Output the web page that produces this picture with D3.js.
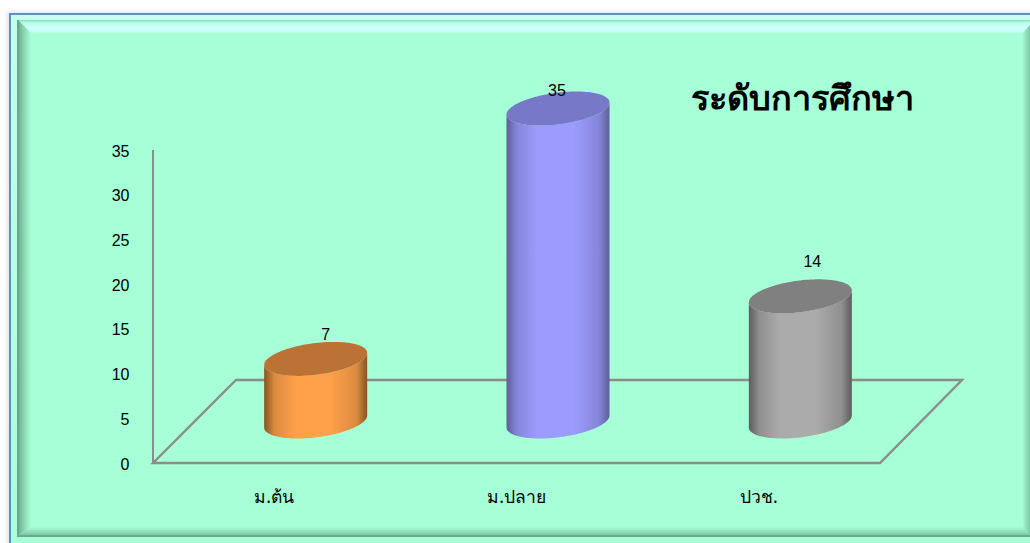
<!DOCTYPE html>
<html><head><meta charset="utf-8">
<script src="https://cdn.jsdelivr.net/npm/d3@7"></script>
<style>html,body{margin:0;padding:0;background:#fff;overflow:hidden}svg{display:block}</style>
</head><body><div id="c"></div>
<script>
const categories = ["ม.ต้น", "ม.ปลาย", "ปวช."];
const values = [7, 35, 14];
const yTicks = [0, 5, 10, 15, 20, 25, 30, 35];
const titleText = "ระดับการศึกษา";
const sideEdge = ["#86541f", "#5e5e98", "#5c5c5c"];
const sideMid = ["#d98a40", "#8585d8", "#8f8f8f"];
const sideLight = ["#ffa04a", "#9c9cff", "#ababab"];
const topColors = ["#bd7235", "#7878c8", "#808080"];
const labelDx = [10, -1, 12];
const labelLift = [26, 20, 37];

const W = 1030, H = 543;
const svg = d3.select("#c").append("svg").attr("width", W).attr("height", H);
const defs = svg.append("defs");

const shadow = defs.append("filter").attr("id","sh").attr("x","-3%").attr("y","-3%").attr("width","106%").attr("height","106%");
shadow.append("feGaussianBlur").attr("stdDeviation",2);

const bg = "#a6ffd6";
const grad=(id,horizontal,stops)=>{
  const g=defs.append("linearGradient").attr("id",id).attr("x1",0).attr("y1",0).attr("x2",horizontal?1:0).attr("y2",horizontal?0:1);
  stops.forEach(([o,c])=>g.append("stop").attr("offset",o).attr("stop-color",c));
};
// frame
svg.append("rect").attr("x",7).attr("y",12).attr("width",1030).attr("height",540).attr("fill","#999").attr("opacity",.3).attr("filter","url(#sh)");
svg.append("rect").attr("x",10).attr("y",14).attr("width",1030).attr("height",540).attr("fill",bg).attr("stroke","#5f8fc0").attr("stroke-width",2);
svg.append("rect").attr("x",11).attr("y",15).attr("width",1030).attr("height",5).attr("fill","#c4fff0");
grad("lb",false,[[0,"#c4fff0"],[1,"#a8ffdc"]]);
svg.append("rect").attr("x",11).attr("y",15).attr("width",6).attr("height",528).attr("fill","url(#lb)");
const ix0=19, iy0=21, ix1=1030, iy1=535, bw=12;
const poly=(pts,fill)=>svg.append("polygon").attr("points",pts.map(p=>p.join(",")).join(" ")).attr("fill",fill);
grad("gt",false,[[0,"#b0fce0"],[.55,"#d0ffff"],[.8,"#c4fff0"],[1,bg]]);
grad("gl",true,[[0,"#6fb596"],[.5,"#8fdcb9"],[1,bg]]);
grad("gb",false,[[0,bg],[1,"#7cc8a6"]]);
grad("gr",true,[[0,bg],[1,"#7cc8a6"]]);
poly([[ix0,iy0],[ix1,iy0],[ix1,iy0+4],[ix1-8,iy0+bw+1],[ix0+bw,iy0+bw+1]],"url(#gt)");
poly([[ix0,iy0],[ix0+bw,iy0+bw],[ix0+bw,iy1-8],[ix0,iy1]],"url(#gl)");
poly([[ix0,iy1],[ix0+bw,iy1-8],[ix1-7,iy1-8],[ix1,iy1]],"url(#gb)");
poly([[ix1,iy0+4],[ix1,iy1],[ix1-7,iy1-8],[ix1-8,iy0+bw+1]],"url(#gr)");
svg.append("rect").attr("x",17).attr("y",20).attr("width",W).attr("height",1.5).attr("fill","#8fe0bc");
svg.append("rect").attr("x",17).attr("y",20).attr("width",2).attr("height",iy1-19).attr("fill","#6aa98c");
svg.append("rect").attr("x",17).attr("y",iy1).attr("width",W).attr("height",2).attr("fill","#6aa98c");

// scales
const plot = {x0:153, x1:880, y0:463, y1:150, dx:83, dy:83};
const x = d3.scaleBand().domain(categories).range([plot.x0, plot.x1]);
const y = d3.scaleLinear().domain([0,35]).range([plot.y0, plot.y1]);
const g = svg.append("g");

// floor + wall line
const axisCol = "#8c8c8c";
g.append("polygon")
  .attr("points",[[plot.x0,plot.y0],[plot.x0+plot.dx,plot.y0-plot.dy],[plot.x1+plot.dx-1,plot.y0-plot.dy],[plot.x1,plot.y0]].map(p=>p.join(",")).join(" "))
  .attr("fill","none").attr("stroke",axisCol).attr("stroke-width",2.4);
g.append("line").attr("x1",plot.x0).attr("x2",plot.x0).attr("y1",plot.y1).attr("y2",plot.y0).attr("stroke",axisCol).attr("stroke-width",2);

// y axis
const ya = d3.axisLeft(y).tickValues(yTicks).tickSize(0).tickPadding(23.5);
const yg = g.append("g").attr("transform",`translate(${plot.x0},1)`).call(ya);
yg.select(".domain").remove();
yg.selectAll("text").attr("font-family","'Liberation Sans',Arial,sans-serif").attr("font-size",16).attr("fill","#000");

// x labels
g.selectAll("text.cat").data(categories).join("text").attr("class","cat")
  .attr("x",d=>x(d)+x.bandwidth()/2).attr("y",503).attr("text-anchor","middle")
  .attr("font-family","'Noto Sans','Liberation Sans',sans-serif").attr("font-size",17.5).attr("fill","#000").text(d=>d);

// cylinders
const rx=51.5, ry=15.9, k=6;
const baseY = plot.y0 - plot.dy/2;
const ell=(cx,cy,t)=>[cx+rx*Math.cos(t), cy+ry*Math.sin(t)-k*Math.cos(t)];
const line=d3.line();
categories.forEach((c,i)=>{
  const cx = x(c)+x.bandwidth()/2+plot.dx/2;
  const topY = baseY-(plot.y0-y(values[i]));
  const id="side"+i;
  grad(id,true,[[0,sideEdge[i]],[.1,sideMid[i]],[.3,sideLight[i]],[.65,sideLight[i]],[.9,sideMid[i]],[1,sideEdge[i]]]);
  const lower=d3.range(0,61).map(n=>ell(cx,baseY,Math.PI-n*Math.PI/60));
  const upper=d3.range(0,61).map(n=>ell(cx,topY,n*Math.PI/60));
  g.append("path").attr("d",line([...lower,...upper])+"Z").attr("fill",`url(#${id})`);
  const whole=d3.range(0,121).map(n=>ell(cx,topY,n*Math.PI/60));
  g.append("path").attr("d",line(whole)+"Z").attr("fill",topColors[i]);
  g.append("text").attr("x",cx+labelDx[i]).attr("y",topY-labelLift[i]+7+(i===2?1:0)).attr("text-anchor","middle")
   .attr("font-family","'Liberation Sans',Arial,sans-serif").attr("font-size",16).attr("fill","#000").text(values[i]);
});

svg.append("text").attr("x",802.5).attr("y",110).attr("text-anchor","middle")
  .attr("font-family","'Noto Sans','DejaVu Sans',sans-serif").attr("font-weight","bold").attr("font-size",34.3).attr("fill","#000").text(titleText);
</script></body></html>
